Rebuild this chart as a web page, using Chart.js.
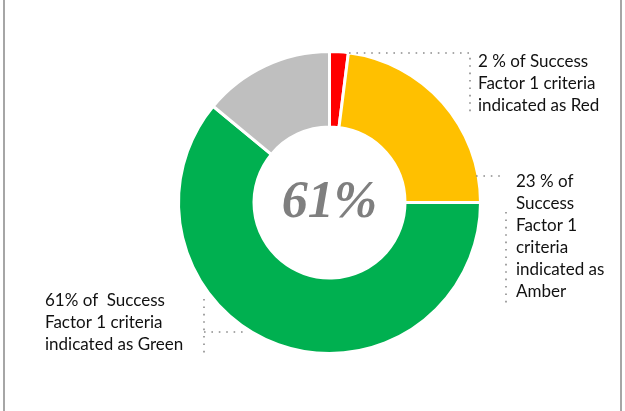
<!DOCTYPE html>
<html>
<head>
<meta charset="utf-8">
<script src="https://cdn.jsdelivr.net/npm/chart.js@4/dist/chart.umd.min.js"></script>
<style>
  html, body { margin: 0; padding: 0; background: #ffffff; }
  #wrap { width: 625px; height: 411px; position: relative; }
</style>
</head>
<body>
<div id="wrap"><canvas id="chart" width="625" height="411"></canvas></div>
<script>
// Success Factor 1 criteria by RAG status (percent)
const categories = ['Red', 'Amber', 'Green', 'Grey'];
const values = [2, 23, 61, 14];
const colors = ['#FF0000', '#FFC000', '#00B050', '#BFBFBF'];

// Callout text, built from the values above
const calloutLines = [
  [values[0] + ' % of Success', 'Factor 1 criteria', 'indicated as Red'],
  [values[1] + ' % of', 'Success', 'Factor 1', 'criteria', 'indicated as', 'Amber'],
  [values[2] + '% of  Success', 'Factor 1 criteria', 'indicated as Green']
];
const centerLabel = values[2] + '%';

// Callout placement relative to the doughnut centre: text origin and dotted leader paths
const callouts = [
  { text: { x: 148.5, y: -140.5 }, paths: [[[19.5, -149.5], [140.5, -149.5], [140.5, -88]]] },
  { text: { x: 186.5, y: -20.5 }, paths: [[[146.5, -26.5], [171, -26.5]], [[176.5, 9.5], [176.5, 103]]] },
  { text: { x: -284.5, y: 98.5 }, paths: [[[-125.5, 96.5], [-125.5, 153]], [[-125.5, 129.5], [-84.5, 129.5]]] }
];

const decorPlugin = {
  id: 'decor',
  beforeDraw(chart) {
    const ctx = chart.ctx;
    ctx.save();
    ctx.strokeStyle = '#A6A6A6';
    ctx.lineWidth = 2;
    ctx.beginPath();
    ctx.moveTo(4, 0); ctx.lineTo(4, chart.height);
    ctx.moveTo(621, 0); ctx.lineTo(621, chart.height);
    ctx.stroke();
    ctx.restore();
  },
  afterDraw(chart) {
    const ctx = chart.ctx;
    const arc = chart.getDatasetMeta(0).data[0];
    const cx = arc.x, cy = arc.y;
    ctx.save();

    // dotted leader lines
    ctx.strokeStyle = '#8C8C8C';
    ctx.lineWidth = 1.6;
    ctx.setLineDash([1.6, 5.8]);
    callouts.forEach(c => {
      c.paths.forEach(p => {
        ctx.beginPath();
        p.forEach((pt, i) => {
          if (i === 0) ctx.moveTo(cx + pt[0], cy + pt[1]);
          else ctx.lineTo(cx + pt[0], cy + pt[1]);
        });
        ctx.stroke();
      });
    });
    ctx.setLineDash([]);

    // callout text
    ctx.fillStyle = '#111111';
    ctx.font = '17px Lato';
    ctx.textAlign = 'left';
    ctx.textBaseline = 'middle';
    callouts.forEach((c, k) => {
      calloutLines[k].forEach((line, i) => {
        ctx.fillText(line, cx + c.text.x, cy + c.text.y + i * 22);
      });
    });

    // centre figure
    ctx.fillStyle = '#7F7F7F';
    ctx.font = 'italic bold 52px "Liberation Serif"';
    ctx.textAlign = 'center';
    ctx.textBaseline = 'alphabetic';
    ctx.fillText(centerLabel, cx, cy + 14);
    ctx.restore();
  }
};

new Chart(document.getElementById('chart'), {
  type: 'doughnut',
  data: {
    labels: categories,
    datasets: [{
      data: values,
      backgroundColor: colors,
      borderColor: '#FFFFFF',
      borderWidth: 3,
      hoverOffset: 0
    }]
  },
  options: {
    responsive: false,
    animation: false,
    radius: 151,
    cutout: '50%',
    layout: { padding: { left: 34, right: 0, top: 0, bottom: 6 } },
    plugins: {
      legend: { display: false },
      tooltip: { enabled: false }
    }
  },
  plugins: [decorPlugin]
});
</script>
</body>
</html>
